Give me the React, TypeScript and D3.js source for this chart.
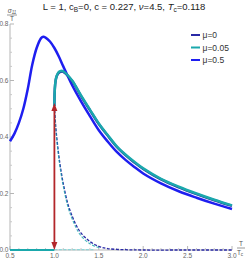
import * as d3 from "d3";
import * as React from "react";

// mu = 0.5 : full curve from T/Tc = 0.5
const tHigh = [0.5, 0.55, 0.6, 0.65, 0.7, 0.75, 0.8, 0.85, 0.875, 0.9, 0.95, 1.0, 1.05, 1.1, 1.2, 1.3, 1.4, 1.5, 1.6, 1.7, 1.8, 1.9, 2.0, 2.2, 2.4, 2.6, 2.8, 3.0];
const sigmaHigh = [0.385, 0.412, 0.45, 0.5, 0.57, 0.655, 0.715, 0.75, 0.755, 0.752, 0.738, 0.715, 0.685, 0.65, 0.583, 0.526, 0.474, 0.424, 0.384, 0.348, 0.319, 0.294, 0.271, 0.236, 0.208, 0.185, 0.164, 0.145];

// mu = 0.05 and mu = 0 : upper branch above Tc
const tUpper = [1.0, 1.002, 1.008, 1.02, 1.04, 1.06, 1.09, 1.12, 1.2, 1.3, 1.4, 1.5, 1.6, 1.7, 1.8, 1.9, 2.0, 2.2, 2.4, 2.6, 2.8, 3.0];
const sigmaMid = [0.51, 0.55, 0.585, 0.61, 0.626, 0.632, 0.634, 0.628, 0.6, 0.547, 0.497, 0.448, 0.407, 0.368, 0.338, 0.312, 0.289, 0.252, 0.224, 0.2, 0.178, 0.158];
const sigmaZero = [0.51, 0.549, 0.584, 0.609, 0.624, 0.63, 0.632, 0.626, 0.598, 0.545, 0.495, 0.446, 0.405, 0.366, 0.336, 0.31, 0.287, 0.25, 0.222, 0.198, 0.176, 0.156];

// lower (dashed) branches
const tLower = [1.0, 1.01, 1.02, 1.04, 1.06, 1.08, 1.1, 1.15, 1.2, 1.25, 1.3, 1.4, 1.5, 1.6, 1.8, 2.0, 2.5, 3.0];
const lowerZero = [0.51, 0.46, 0.42, 0.36, 0.31, 0.27, 0.235, 0.165, 0.12, 0.085, 0.06, 0.03, 0.013, 0.005, 0.001, 0, 0, 0];
const tLowerMid = [1.0, 1.01, 1.02, 1.04, 1.06, 1.08, 1.1, 1.15, 1.2, 1.25, 1.3, 1.4, 1.5];
const lowerMid = [0.51, 0.45, 0.41, 0.35, 0.3, 0.26, 0.225, 0.155, 0.11, 0.075, 0.05, 0.022, 0.008];

const xTicks = [0.5, 1.0, 1.5, 2.0, 2.5, 3.0];
const yTicks = [0.0, 0.2, 0.4, 0.6, 0.8];
const legendLabels = ["\u03bc=0", "\u03bc=0.05", "\u03bc=0.5"];
const arrowTop = 0.52;

const colZero = "#2a2aa6";
const colMid = "#1aa8ac";
const colHigh = "#1e1ef0";
const colArrow = "#b3262a";
const font = "Liberation Sans, Arial, sans-serif";

export default function App() {
  const W = 249, H = 260;
  const x = d3.scaleLinear().domain([0.5, 3.0]).range([10, 232]);
  const y = d3.scaleLinear().domain([0, 0.8]).range([250, 24]);

  const line = d3.line<[number, number]>()
    .x(d => x(d[0]))
    .y(d => y(d[1]))
    .curve(d3.curveCatmullRom.alpha(0.5));

  const zip = (ts: number[], vs: number[]) => ts.map((t, i) => [t, vs[i]] as [number, number]);

  const minorY = d3.range(0, 0.801, 0.05).filter(v => Math.abs(v * 5 - Math.round(v * 5)) > 1e-6);
  const minorX = d3.range(0.6, 3.0, 0.1).filter(v => Math.abs(v * 2 - Math.round(v * 2)) > 1e-6);

  const ax = x(1.0);
  const yTop = y(arrowTop);
  const y0 = y(0);

  return (
    <svg width={W} height={H} style={{ position: "fixed", left: 0, top: 0, background: "#fff" }}
      fontFamily={font}>
      {/* axes */}
      <line x1={x(0.5)} x2={x(3.0)} y1={y0} y2={y0} stroke="#b5b5b5" strokeWidth={1} />
      <line x1={x(0.5)} x2={x(0.5)} y1={y0} y2={y(0.8)} stroke="#b5b5b5" strokeWidth={1} />
      {xTicks.map(t => (
        <g key={"xt" + t}>
          <line x1={x(t)} x2={x(t)} y1={y0} y2={y0 - 4} stroke="#b5b5b5" />
          <text x={x(t)} y={258} fontSize={6.5} fill="#666" textAnchor="middle">{t.toFixed(1)}</text>
        </g>
      ))}
      {minorX.map(t => (
        <line key={"mx" + t} x1={x(t)} x2={x(t)} y1={y0} y2={y0 - 2} stroke="#c8c8c8" />
      ))}
      {yTicks.map(v => (
        <g key={"yt" + v}>
          <line x1={x(0.5)} x2={x(0.5) + 4} y1={y(v)} y2={y(v)} stroke="#b5b5b5" />
          <text x={8.5} y={y(v) + 2.3} fontSize={6.5} fill="#666" textAnchor="end">{v.toFixed(1)}</text>
        </g>
      ))}
      {minorY.map(v => (
        <line key={"my" + v} x1={x(0.5)} x2={x(0.5) + 2} y1={y(v)} y2={y(v)} stroke="#c8c8c8" />
      ))}

      {/* axis labels */}
      <text x={12} y={13} fontSize={6.5} fill="#555" textAnchor="middle" fontStyle="italic">
        {"\u03c3"}<tspan fontSize={4.5} dy={1}>11</tspan>
      </text>
      <line x1={7} x2={17} y1={15} y2={15} stroke="#555" strokeWidth={0.6} />
      <text x={12} y={21} fontSize={6.5} fill="#555" textAnchor="middle">T</text>

      <text x={241} y={246} fontSize={6.5} fill="#555" textAnchor="middle">T</text>
      <line x1={237} x2={245} y1={248} y2={248} stroke="#555" strokeWidth={0.6} />
      <text x={240} y={255} fontSize={6.5} fill="#555" textAnchor="middle">
        T<tspan fontSize={4.5} dy={1}>c</tspan>
      </text>

      {/* title */}
      <text x={124} y={10} fontSize={9.5} fill="#222" textAnchor="middle">
        L = 1, c<tspan fontSize={6.5} dy={2}>B</tspan><tspan dy={-2}>=0, c = 0.227, </tspan>
        <tspan fontStyle="italic">{"\u03bd"}</tspan>=4.5, <tspan fontStyle="italic">T</tspan>
        <tspan fontSize={6.5} dy={2}>c</tspan><tspan dy={-2}>=0.118</tspan>
      </text>

      {/* zero branch below Tc */}
      <line x1={x(0.5)} x2={x(1.0)} y1={y0} y2={y0} stroke={colMid} strokeWidth={2.2} />

      {/* dashed lower branches */}
      <path d={line(zip(tLower, lowerZero)) || ""} fill="none" stroke={colZero} strokeWidth={1.3} strokeDasharray="3,1.5" />
      <path d={line(zip(tLowerMid, lowerMid)) || ""} fill="none" stroke={colMid} strokeWidth={1.1} strokeDasharray="3,1.5" opacity={0.8} />
      <line x1={x(1.0)} x2={x(1.45)} y1={y0 - 0.3} y2={y0 - 0.3} stroke="#8fd6d8" strokeWidth={1.3} strokeDasharray="3,1.5" />

      {/* upper branches */}
      <path d={line(zip(tHigh, sigmaHigh)) || ""} fill="none" stroke={colHigh} strokeWidth={2.5} />
      <path d={line(zip(tUpper, sigmaZero)) || ""} fill="none" stroke={colZero} strokeWidth={2.5} />
      <path d={line(zip(tUpper, sigmaMid)) || ""} fill="none" stroke={colMid} strokeWidth={2.5} />

      {/* double arrow at Tc */}
      <line x1={ax} x2={ax} y1={yTop + 6} y2={y0 - 6} stroke={colArrow} strokeWidth={1.8} />
      <path d={`M${ax},${yTop} L${ax - 3},${yTop + 8} L${ax + 3},${yTop + 8} Z`} fill={colArrow} />
      <path d={`M${ax},${y0} L${ax - 3},${y0 - 8} L${ax + 3},${y0 - 8} Z`} fill={colArrow} />

      {/* legend */}
      {legendLabels.map((lab, i) => {
        const ly = 35 + i * 12.5;
        const c = [colZero, colMid, colHigh][i];
        return (
          <g key={lab}>
            <line x1={191} x2={200} y1={ly} y2={ly} stroke={c} strokeWidth={2} />
            <text x={202.5} y={ly + 3} fontSize={8.5} fill="#333">{lab}</text>
          </g>
        );
      })}
    </svg>
  );
}
